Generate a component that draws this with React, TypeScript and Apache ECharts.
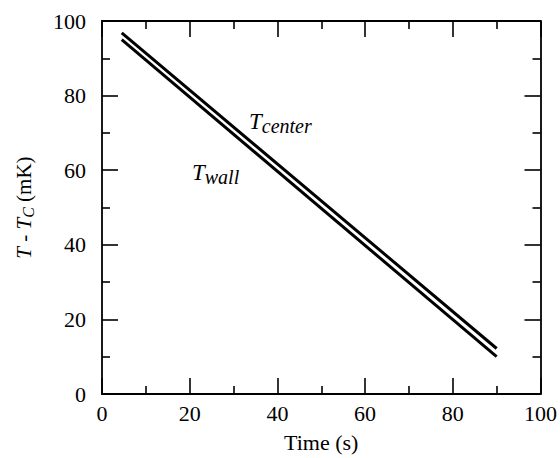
import React, { useEffect, useRef } from "react";
import * as echarts from "echarts";

const centerX = [4.5, 90];
const centerY = [96.8, 12.2];
const wallX = [4.5, 90];
const wallY = [95.0, 10.0];
const xTicks = [0, 20, 40, 60, 80, 100];
const yTicks = [0, 20, 40, 60, 80, 100];

const FONT = "Liberation Serif";

export default function App() {
  const ref = useRef<HTMLDivElement>(null);
  useEffect(() => {
    if (!ref.current) return;
    const chart = echarts.init(ref.current, undefined, { renderer: "svg" });
    const axisCommon = {
      min: 0,
      max: 100,
      interval: 20,
      axisLine: { show: true, onZero: false, lineStyle: { color: "#000", width: 1.8 } },
      axisTick: { show: true, inside: true, length: 16, lineStyle: { color: "#000", width: 1.6 } },
      minorTick: { show: true, splitNumber: 2, length: 8, lineStyle: { color: "#000", width: 1.6 } },
      splitLine: { show: false },
    };
    const labelStyle = { fontFamily: FONT, fontSize: 22, color: "#000" };
    const richLabel = (sub: number) => ({
      t: { fontFamily: FONT, fontSize: 23, fontStyle: "italic", fill: "#000" },
      s: { fontFamily: FONT, fontSize: sub, fontStyle: "italic", fill: "#000", padding: [9, 0, 0, 0] },
    });
    chart.setOption({
      animation: false,
      backgroundColor: "#fff",
      grid: { left: 102, right: 16, top: 21, bottom: 59 },
      xAxis: [
        {
          type: "value",
          position: "bottom",
          ...axisCommon,
          axisLabel: { ...labelStyle, margin: 8, formatter: (v: number) => (xTicks.includes(v) ? String(v) : "") },
          name: "Time (s)",
          nameLocation: "middle",
          nameGap: 37,
          nameTextStyle: { fontFamily: FONT, fontSize: 22, color: "#000" },
        },
        { type: "value", position: "top", ...axisCommon, axisLabel: { show: false } },
      ],
      yAxis: [
        {
          type: "value",
          position: "left",
          ...axisCommon,
          axisLabel: { ...labelStyle, margin: 16, formatter: (v: number) => (yTicks.includes(v) ? String(v) : "") },
          name: "{i|T} - {i|T}{s|C} (mK)",
          nameLocation: "middle",
          nameGap: 66,
          nameTextStyle: {
            fontFamily: FONT,
            fontSize: 21,
            color: "#000",
            padding: [0, 0, 0, 0],
            rich: {
              i: { fontFamily: FONT, fontSize: 21, fontStyle: "italic", color: "#000" },
              s: { fontFamily: FONT, fontSize: 16, fontStyle: "italic", color: "#000", padding: [8, 0, 0, 0] },
            },
          },
        },
        { type: "value", position: "right", ...axisCommon, axisLabel: { show: false } },
      ],
      series: [
        {
          type: "line",
          data: centerX.map((x, i) => [x, centerY[i]]),
          showSymbol: false,
          lineStyle: { color: "#000", width: 3 },
        },
        {
          type: "line",
          data: wallX.map((x, i) => [x, wallY[i]]),
          showSymbol: false,
          lineStyle: { color: "#000", width: 3 },
        },
      ],
      graphic: [
        {
          type: "text",
          x: 249,
          y: 121,
          style: { text: "{t|T}{s|center}", rich: richLabel(20), verticalAlign: "middle" },
        },
        {
          type: "text",
          x: 192,
          y: 172,
          style: { text: "{t|T}{s|wall}", rich: richLabel(20), verticalAlign: "middle" },
        },
      ],
    });
    return () => chart.dispose();
  }, []);
  return <div ref={ref} style={{ width: 560, height: 458, position: "absolute", left: 0, top: 0 }} />;
}
